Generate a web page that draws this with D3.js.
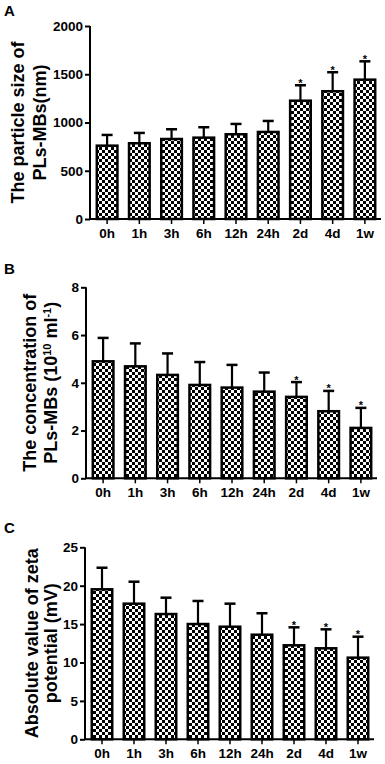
<!DOCTYPE html>
<html>
<head>
<meta charset="utf-8">
<script src="https://cdn.jsdelivr.net/npm/d3@7"></script>
<style>
  html, body { margin: 0; padding: 0; background: #fff; }
  svg { display: block; }
  text { font-family: "Liberation Sans", Arial, sans-serif; font-weight: bold; fill: #000; }
</style>
</head>
<body>
<div id="chart"></div>
<script>
const categories = ['0h', '1h', '3h', '6h', '12h', '24h', '2d', '4d', '1w'];
const significant = [0, 0, 0, 0, 0, 0, 1, 1, 1];

// A: particle size
const sizeMean = [760, 785, 829, 843, 878, 902, 1226, 1324, 1444];
const sizeSD = [111, 107, 101, 108, 107, 114, 160, 197, 190];
const sizeTicks = [0, 500, 1000, 1500, 2000];

// B: concentration
const concMean = [4.90, 4.69, 4.33, 3.91, 3.80, 3.63, 3.41, 2.81, 2.11];
const concSD = [0.98, 0.96, 0.90, 0.96, 0.95, 0.80, 0.62, 0.85, 0.84];
const concTicks = [0, 2, 4, 6, 8];

// C: zeta potential
const zetaMean = [19.53, 17.66, 16.31, 15.01, 14.66, 13.62, 12.24, 11.85, 10.63];
const zetaSD = [2.81, 2.86, 2.13, 3.0, 3.0, 2.79, 2.34, 2.47, 2.73];
const zetaTicks = [0, 5, 10, 15, 20, 25];

const width = 385, height = 764;

const svg = d3.select('#chart').append('svg')
  .attr('width', width)
  .attr('height', height);

svg.append('rect').attr('width', width).attr('height', height).attr('fill', '#fff');

// checkerboard fill
const pat = svg.append('defs').append('pattern')
  .attr('id', 'checker')
  .attr('patternUnits', 'userSpaceOnUse')
  .attr('width', 6)
  .attr('height', 6);
pat.append('rect').attr('width', 6).attr('height', 6).attr('fill', '#fff');
pat.append('rect').attr('width', 3).attr('height', 3).attr('fill', '#000');
pat.append('rect').attr('x', 3).attr('y', 3).attr('width', 3).attr('height', 3).attr('fill', '#000');

const drawPanel = (cfg) => {
  const g = svg.append('g');

  const x = d3.scaleBand()
    .domain(categories)
    .range([cfg.axisX + 1, cfg.xEnd])
    .paddingInner(0.36)
    .paddingOuter(0.18);

  const y = d3.scaleLinear()
    .domain([0, cfg.max])
    .range([cfg.bottom, cfg.top]);

  // bars
  g.selectAll('rect.bar')
    .data(cfg.mean)
    .enter()
    .append('rect')
    .attr('class', 'bar')
    .attr('x', (d, i) => x(categories[i]))
    .attr('y', d => y(d))
    .attr('width', x.bandwidth())
    .attr('height', d => y(0) - y(d))
    .attr('fill', 'url(#checker)')
    .attr('stroke', '#000')
    .attr('stroke-width', 2.5);

  // error bars (upper only)
  cfg.mean.forEach((m, i) => {
    const cx = x(categories[i]) + x.bandwidth() / 2;
    const top = y(m + cfg.sd[i]);
    g.append('line')
      .attr('x1', cx).attr('x2', cx)
      .attr('y1', y(m)).attr('y2', top)
      .attr('stroke', '#000')
      .attr('stroke-width', 2.2);
    g.append('line')
      .attr('x1', cx - 5.5).attr('x2', cx + 5.5)
      .attr('y1', top).attr('y2', top)
      .attr('stroke', '#000')
      .attr('stroke-width', 2.5);
    if (significant[i]) {
      g.append('text')
        .attr('x', cx)
        .attr('y', top + 1.5)
        .attr('text-anchor', 'middle')
        .style('font-size', '11px')
        .text('*');
    }
  });

  // y axis
  const yAxis = g.append('g')
    .attr('transform', `translate(${cfg.axisX},0)`)
    .call(d3.axisLeft(y).tickValues(cfg.ticks).tickFormat(d3.format('d')).tickSize(5).tickPadding(2));
  yAxis.select('.domain')
    .attr('d', `M0,${cfg.top}V${cfg.bottom}`)
    .attr('stroke-width', 2);
  yAxis.selectAll('.tick line').attr('stroke-width', 2);
  yAxis.selectAll('.tick text')
    .style('font-size', '13.5px')
    .style('font-family', '"Liberation Sans", Arial, sans-serif')
    .style('font-weight', 'bold');

  // x axis
  const xAxis = g.append('g')
    .attr('transform', `translate(0,${cfg.bottom})`)
    .call(d3.axisBottom(x).tickSize(5).tickPadding(4));
  xAxis.select('.domain')
    .attr('d', `M${cfg.axisX},0H${cfg.xEnd}`)
    .attr('stroke-width', 2);
  xAxis.selectAll('.tick line').attr('stroke-width', 1.5);
  xAxis.selectAll('.tick text')
    .style('font-size', '13.5px')
    .style('font-family', '"Liberation Sans", Arial, sans-serif')
    .style('font-weight', 'bold');

  // axis title (two rotated lines)
  const yc = (cfg.top + cfg.bottom) / 2;
  cfg.title.forEach((line, k) => {
    const t = g.append('text')
      .attr('transform', `translate(${cfg.titleX[k]},${yc}) rotate(-90)`)
      .attr('text-anchor', 'middle')
      .attr('dy', '0.35em')
      .style('font-size', '18px');
    line.forEach(part => {
      const s = t.append('tspan').text(part.t);
      if (part.sup) s.attr('baseline-shift', 'super').style('font-size', '11px');
    });
  });

  // panel letter
  g.append('text')
    .attr('x', 4)
    .attr('y', cfg.letterY)
    .style('font-size', '15px')
    .text(cfg.letter);
};

drawPanel({
  letter: 'A', letterY: 16,
  axisX: 90, xEnd: 381, top: 26, bottom: 219, max: 2000,
  ticks: sizeTicks, mean: sizeMean, sd: sizeSD,
  titleX: [18, 40],
  title: [[{ t: 'The particle size of' }], [{ t: 'PLs-MBs(nm)' }]]
});

drawPanel({
  letter: 'B', letterY: 274,
  axisX: 86, xEnd: 377, top: 287.3, bottom: 478.3, max: 8,
  ticks: concTicks, mean: concMean, sd: concSD,
  titleX: [30, 51],
  title: [
    [{ t: 'The concentration of' }],
    [{ t: 'PLs-MBs (10' }, { t: '10', sup: true }, { t: ' ml' }, { t: '-1', sup: true }, { t: ')' }]
  ]
});

drawPanel({
  letter: 'C', letterY: 533,
  axisX: 85, xEnd: 374, top: 547.3, bottom: 739.3, max: 25,
  ticks: zetaTicks, mean: zetaMean, sd: zetaSD,
  titleX: [32, 51],
  title: [[{ t: 'Absolute value of zeta' }], [{ t: 'potential (mV)' }]]
});
</script>
</body>
</html>
